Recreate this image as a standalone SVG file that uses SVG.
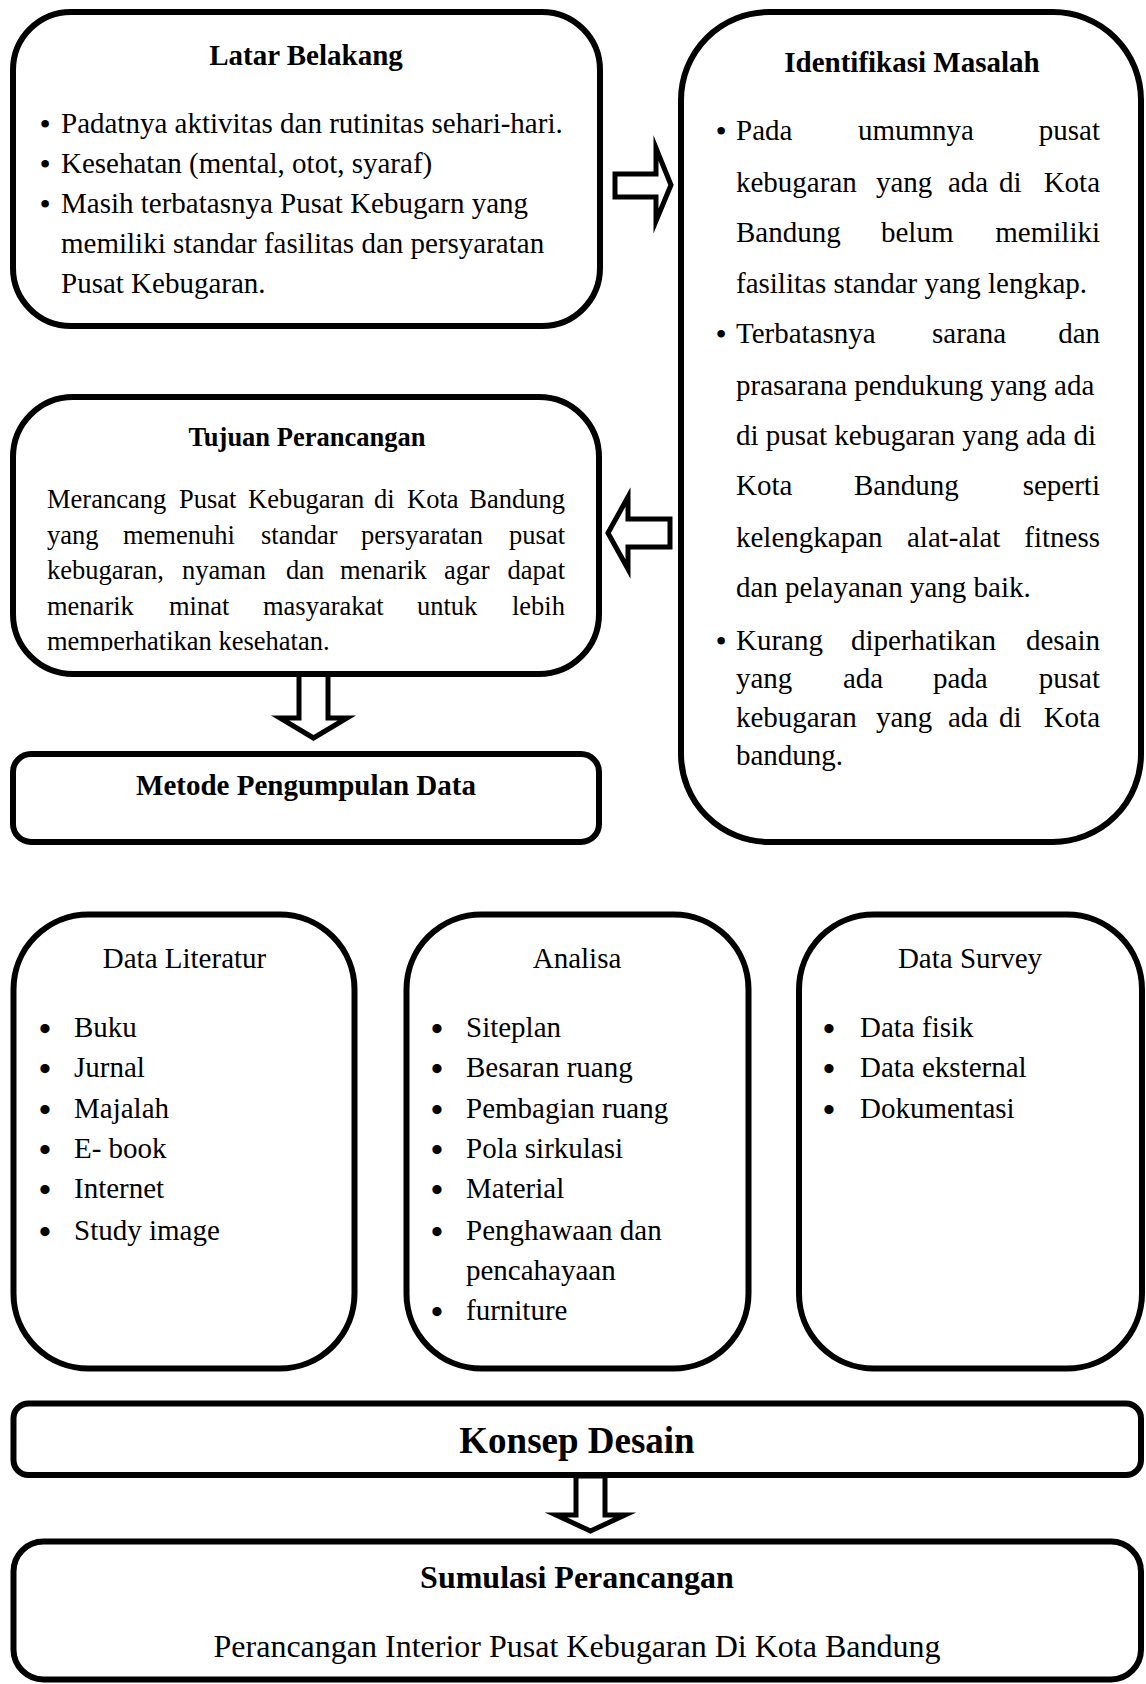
<svg xmlns="http://www.w3.org/2000/svg" width="1146" height="1684" viewBox="0 0 1146 1684">
<style>
.box{fill:#fff;stroke:#000;stroke-width:6}
.arr{fill:#fff;stroke:#000;stroke-width:5;stroke-linejoin:miter;stroke-miterlimit:20}
text{font-family:"Liberation Serif","Times New Roman",serif;fill:#000}
.b{font-weight:bold}
.s29{font-size:29px}
.s26{font-size:26.5px}
.s37{font-size:37px}
.s32{font-size:32px}
.c{text-anchor:middle}
.e{text-anchor:end}
.bl{font-size:32px;text-anchor:middle}
.bl2{font-size:34px;font-weight:bold;text-anchor:middle}
</style>
<defs>
<clipPath id="clipTujuan"><rect x="0" y="380" width="620" height="271"/></clipPath>
</defs>
<rect width="1146" height="1684" fill="#fff"/>

<g id="connectors">
<polygon class="arr" points="615,174 656,174 656,148 671,185 656,221 656,197 615,197"/>
<polygon class="arr" points="608,533 628,497 628,519 670,519 670,547 628,547 628,569"/>
<polygon class="arr" points="299,672 328,672 328,718 347,718 313.5,738 280,718 299,718"/>
<polygon class="arr" points="576,1476 605,1476 605,1515 625,1515 590.5,1531 556,1515 576,1515"/>
</g>

<g id="latar-belakang">
<rect class="box" x="13" y="12" width="587" height="314" rx="58" ry="58"/>
<text class="b s29 c" x="306" y="65">Latar Belakang</text>
<text class="bl" x="45" y="135">•</text>
<text class="s29" x="61" y="133">Padatnya aktivitas dan rutinitas sehari-hari.</text>
<text class="bl" x="45" y="175">•</text>
<text class="s29" x="61" y="173">Kesehatan (mental, otot, syaraf)</text>
<text class="bl" x="45" y="215">•</text>
<text class="s29" x="61" y="213">Masih terbatasnya Pusat Kebugarn yang</text>
<text class="s29" x="61" y="253">memiliki standar fasilitas dan persyaratan</text>
<text class="s29" x="61" y="293">Pusat Kebugaran.</text>
</g>

<g id="identifikasi-masalah">
<rect class="box" x="681" y="12" width="460" height="830" rx="88" ry="88"/>
<text class="b s29 c" x="912" y="72">Identifikasi Masalah</text>
<text class="bl" x="721" y="142">•</text>
<text class="s29" x="736" y="140">Pada</text><text class="s29" x="858" y="140">umumnya</text><text class="s29 e" x="1100" y="140">pusat</text>
<text class="s29" x="736" y="192">kebugaran</text><text class="s29" x="876" y="192">yang</text><text class="s29" x="948" y="192">ada</text><text class="s29" x="999" y="192">di</text><text class="s29 e" x="1100" y="192">Kota</text>
<text class="s29" x="736" y="242">Bandung</text><text class="s29" x="881" y="242">belum</text><text class="s29 e" x="1100" y="242">memiliki</text>
<text class="s29" x="736" y="293">fasilitas standar yang lengkap.</text>
<text class="bl" x="721" y="345">•</text>
<text class="s29" x="736" y="343">Terbatasnya</text><text class="s29" x="932" y="343">sarana</text><text class="s29 e" x="1100" y="343">dan</text>
<text class="s29" x="736" y="395">prasarana pendukung yang ada</text>
<text class="s29" x="736" y="445">di pusat kebugaran yang ada di</text>
<text class="s29" x="736" y="495">Kota</text><text class="s29" x="854" y="495">Bandung</text><text class="s29 e" x="1100" y="495">seperti</text>
<text class="s29" x="736" y="547">kelengkapan</text><text class="s29" x="907" y="547">alat-alat</text><text class="s29 e" x="1100" y="547">fitness</text>
<text class="s29" x="736" y="597">dan pelayanan yang baik.</text>
<text class="bl" x="721" y="652">•</text>
<text class="s29" x="736" y="650">Kurang</text><text class="s29" x="851" y="650">diperhatikan</text><text class="s29 e" x="1100" y="650">desain</text>
<text class="s29" x="736" y="688">yang</text><text class="s29" x="843" y="688">ada</text><text class="s29" x="933" y="688">pada</text><text class="s29 e" x="1100" y="688">pusat</text>
<text class="s29" x="736" y="727">kebugaran</text><text class="s29" x="876" y="727">yang</text><text class="s29" x="948" y="727">ada</text><text class="s29" x="999" y="727">di</text><text class="s29 e" x="1100" y="727">Kota</text>
<text class="s29" x="736" y="765">bandung.</text>
</g>

<g id="tujuan-perancangan">
<rect class="box" x="13" y="397" width="586" height="277" rx="60" ry="60"/>
<text class="b s26 c" x="307" y="446">Tujuan Perancangan</text>
<g clip-path="url(#clipTujuan)">
<text class="s26" x="47" y="508">Merancang</text><text class="s26" x="179" y="508">Pusat</text><text class="s26" x="248" y="508">Kebugaran</text><text class="s26" x="374" y="508">di</text><text class="s26" x="407" y="508">Kota</text><text class="s26 e" x="565" y="508">Bandung</text>
<text class="s26" x="47" y="543.5">yang</text><text class="s26" x="123" y="543.5">memenuhi</text><text class="s26" x="261" y="543.5">standar</text><text class="s26" x="361" y="543.5">persyaratan</text><text class="s26 e" x="565" y="543.5">pusat</text>
<text class="s26" x="47" y="579">kebugaran,</text><text class="s26" x="182" y="579">nyaman</text><text class="s26" x="286" y="579">dan</text><text class="s26" x="340" y="579">menarik</text><text class="s26" x="444" y="579">agar</text><text class="s26 e" x="565" y="579">dapat</text>
<text class="s26" x="47" y="614.5">menarik</text><text class="s26" x="169" y="614.5">minat</text><text class="s26" x="263" y="614.5">masyarakat</text><text class="s26" x="417" y="614.5">untuk</text><text class="s26 e" x="565" y="614.5">lebih</text>
<text class="s26" x="47" y="650">memperhatikan kesehatan.</text>
</g>
</g>

<g id="metode-pengumpulan-data">
<rect class="box" x="13" y="754" width="586" height="88" rx="18" ry="18"/>
<text class="b s29 c" x="306" y="795">Metode Pengumpulan Data</text>
</g>

<g id="data-literatur">
<rect class="box" x="13.5" y="914.5" width="341" height="454" rx="75" ry="75"/>
<text class="s29 c" x="184.5" y="968">Data Literatur</text>
<text class="bl2" x="45" y="1040">•</text><text class="s29" x="74" y="1037">Buku</text>
<text class="bl2" x="45" y="1080">•</text><text class="s29" x="74" y="1077">Jurnal</text>
<text class="bl2" x="45" y="1121">•</text><text class="s29" x="74" y="1118">Majalah</text>
<text class="bl2" x="45" y="1161">•</text><text class="s29" x="74" y="1158">E- book</text>
<text class="bl2" x="45" y="1201">•</text><text class="s29" x="74" y="1198">Internet</text>
<text class="bl2" x="45" y="1243">•</text><text class="s29" x="74" y="1240">Study image</text>
</g>

<g id="analisa">
<rect class="box" x="406.5" y="914.5" width="342" height="454" rx="75" ry="75"/>
<text class="s29 c" x="577" y="968">Analisa</text>
<text class="bl2" x="437" y="1040">•</text><text class="s29" x="466" y="1037">Siteplan</text>
<text class="bl2" x="437" y="1080">•</text><text class="s29" x="466" y="1077">Besaran ruang</text>
<text class="bl2" x="437" y="1121">•</text><text class="s29" x="466" y="1118">Pembagian ruang</text>
<text class="bl2" x="437" y="1161">•</text><text class="s29" x="466" y="1158">Pola sirkulasi</text>
<text class="bl2" x="437" y="1201">•</text><text class="s29" x="466" y="1198">Material</text>
<text class="bl2" x="437" y="1243">•</text><text class="s29" x="466" y="1240">Penghawaan dan</text>
<text class="s29" x="466" y="1280">pencahayaan</text>
<text class="bl2" x="437" y="1323">•</text><text class="s29" x="466" y="1320">furniture</text>
</g>

<g id="data-survey">
<rect class="box" x="799" y="914.5" width="343" height="454" rx="75" ry="75"/>
<text class="s29 c" x="970" y="968">Data Survey</text>
<text class="bl2" x="829" y="1040">•</text><text class="s29" x="860" y="1037">Data fisik</text>
<text class="bl2" x="829" y="1080">•</text><text class="s29" x="860" y="1077">Data eksternal</text>
<text class="bl2" x="829" y="1121">•</text><text class="s29" x="860" y="1118">Dokumentasi</text>
</g>

<g id="konsep-desain">
<rect class="box" x="13.5" y="1403.5" width="1127.5" height="71.5" rx="15" ry="15"/>
<text class="b s37 c" x="577" y="1453">Konsep Desain</text>
</g>

<g id="sumulasi-perancangan">
<rect class="box" x="13.5" y="1541.5" width="1127.5" height="138" rx="30" ry="30"/>
<text class="b s32 c" x="577" y="1588">Sumulasi Perancangan</text>
<text class="s32 c" x="577" y="1657">Perancangan Interior Pusat Kebugaran Di Kota Bandung</text>
</g>
</svg>
